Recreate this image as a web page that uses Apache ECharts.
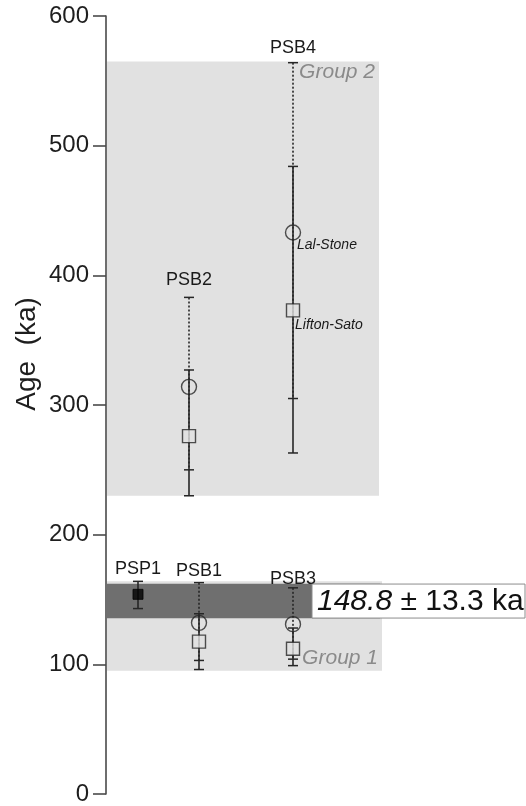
<!DOCTYPE html>
<html>
<head>
<meta charset="utf-8">
<script src="https://cdn.jsdelivr.net/npm/echarts@6/dist/echarts.min.js"></script>
<style>
  html, body { margin: 0; padding: 0; background: #ffffff; }
  #chart { width: 526px; height: 806px; }
</style>
</head>
<body>
<div id="chart"></div>
<script>
// Exposure ages (ka) per sample, two production-rate scalings
const samples = ['PSP1', 'PSB1', 'PSB2', 'PSB3', 'PSB4'];
const lalStoneAge  = [null, 132, 314, 131, 433];
const lalStoneLow  = [null, 103, 250, 104, 305];
const lalStoneHigh = [null, 163, 383, 159, 564];
const liftonSatoAge  = [null, 117.5, 276, 112, 373];
const liftonSatoLow  = [null, 96, 230, 99, 263];
const liftonSatoHigh = [null, 139, 327, 128, 484];
// single dated sample (filled marker)
const singleAge  = [154, null, null, null, null];
const singleLow  = [143, null, null, null, null];
const singleHigh = [164, null, null, null, null];

// age groups (shaded ranges)
const groupNames = ['Group 1', 'Group 2'];
const groupLow  = [95, 230];
const groupHigh = [164, 565];

// weighted mean of group 1
const meanAge = 148.8;
const meanErr = 13.3;

// axis
const ageMin = 0, ageMax = 600, ageStep = 100;

// ---- layout (horizontal slots along a hidden pixel-like axis) ----
const slotX = [32, 93, 83, 187, 187];
const labelLift = [12, 12, 17, 9, 15];
const groupRight = [276, 273];
const bandRight = 274;
const X_MAX = 420;

const INK = '#262626';
const FONT = '"Liberation Sans", Arial, sans-serif';

const chart = echarts.init(document.getElementById('chart'), null, { renderer: 'canvas' });

function rangeData(low, high) {
  const out = [];
  samples.forEach((s, i) => {
    if (low[i] != null) out.push([slotX[i], low[i], high[i]]);
  });
  return out;
}
function pointData(age) {
  const out = [];
  samples.forEach((s, i) => {
    if (age[i] != null) out.push([slotX[i], age[i]]);
  });
  return out;
}

function errorBarSeries(name, low, high, dashed, z) {
  return {
    type: 'custom', name, z, clip: false, silent: true,
    data: rangeData(low, high),
    renderItem: (params, api) => {
      const top = api.coord([api.value(0), api.value(2)]);
      const bot = api.coord([api.value(0), api.value(1)]);
      const style = { stroke: INK, lineWidth: 1.6, lineDash: dashed ? [2, 2] : null };
      const cap = 5;
      return {
        type: 'group',
        children: [
          { type: 'line', shape: { x1: top[0], y1: top[1], x2: bot[0], y2: bot[1] }, style },
          { type: 'line', shape: { x1: top[0] - cap, y1: top[1], x2: top[0] + cap, y2: top[1] }, style: { stroke: INK, lineWidth: 1.5 } },
          { type: 'line', shape: { x1: bot[0] - cap, y1: bot[1], x2: bot[0] + cap, y2: bot[1] }, style: { stroke: INK, lineWidth: 1.5 } }
        ]
      };
    }
  };
}

const groupData = groupNames.map((n, i) => [groupRight[i], groupLow[i], groupHigh[i], n]);

const option = {
  animation: false,
  backgroundColor: '#ffffff',
  grid: { left: 106, right: 0, top: 16, bottom: 6.5, containLabel: false },
  xAxis: { type: 'value', min: 0, max: X_MAX, show: false },
  yAxis: {
    type: 'value', min: ageMin, max: ageMax, interval: ageStep,
    axisLine: { show: true, lineStyle: { color: '#4a4a4a', width: 1.6 } },
    axisTick: { show: true, length: 13, lineStyle: { color: '#4a4a4a', width: 1.6 } },
    axisLabel: { color: '#1e1e1e', fontSize: 24, fontFamily: FONT, margin: 17 },
    splitLine: { show: false }
  },
  graphic: [{
    type: 'text', x: 27, y: 354, rotation: Math.PI / 2,
    style: { text: 'Age  (ka)', fill: '#1e1e1e', font: '28px ' + FONT, align: 'center', verticalAlign: 'middle' }
  }],
  series: [
    // shaded age groups
    {
      type: 'custom', name: 'groups', z: 1, silent: true, clip: false,
      data: groupData,
      renderItem: (params, api) => {
        const tl = api.coord([0, api.value(2)]);
        const br = api.coord([api.value(0), api.value(1)]);
        const isTop = params.dataIndex === 1;
        return {
          type: 'group',
          children: [
            { type: 'rect', shape: { x: tl[0] + 1, y: tl[1], width: br[0] - tl[0] - 1, height: br[1] - tl[1] }, style: { fill: '#e1e1e1' } },
            {
              type: 'text', z2: 5,
              style: {
                text: groupData[params.dataIndex][3], x: br[0] - 4,
                y: isTop ? tl[1] + 11 : br[1] - 13,
                align: 'right', verticalAlign: 'middle',
                fill: '#8a8a8a', font: 'italic 21px ' + FONT
              }
            }
          ]
        };
      }
    },
    // weighted mean band with its annotation
    {
      type: 'custom', name: 'mean', z: 2, silent: true, clip: false,
      data: [[bandRight, meanAge - meanErr, meanAge + meanErr, meanAge]],
      renderItem: (params, api) => {
        const tl = api.coord([0, api.value(2)]);
        const br = api.coord([api.value(0), api.value(1)]);
        const mid = api.coord([0, api.value(3)]);
        const bx = api.coord([206, 0])[0];
        const bh = 34;
        return {
          type: 'group',
          children: [
            { type: 'rect', shape: { x: tl[0] + 1, y: tl[1], width: br[0] - tl[0] - 1, height: br[1] - tl[1] }, style: { fill: '#6f6f6f' } },
            { type: 'rect', z2: 10, shape: { x: bx, y: mid[1] - bh / 2, width: 525 - bx, height: bh }, style: { fill: '#ffffff', stroke: '#8c8c8c', lineWidth: 1 } },
            {
              type: 'text', z2: 11,
              style: {
                x: bx + 5, y: mid[1] + 1,
                text: '{i|' + meanAge.toFixed(1) + '} ± ' + meanErr.toFixed(1) + ' ka',
                verticalAlign: 'middle', align: 'left',
                fill: '#111', font: '30px ' + FONT,
                rich: { i: { fontStyle: 'italic', fontSize: 30, fontFamily: FONT, fill: '#111' } }
              }
            }
          ]
        };
      }
    },
    errorBarSeries('Lal-Stone range', lalStoneLow, lalStoneHigh, true, 3),
    errorBarSeries('Lifton-Sato range', liftonSatoLow, liftonSatoHigh, false, 4),
    errorBarSeries('single range', singleLow, singleHigh, false, 4),
    {
      type: 'scatter', name: 'Lal-Stone', z: 5, silent: true,
      symbol: 'circle', symbolSize: 15,
      itemStyle: { color: 'rgba(0,0,0,0)', borderColor: INK, borderWidth: 1.4 },
      data: pointData(lalStoneAge)
    },
    {
      type: 'scatter', name: 'Lifton-Sato', z: 5, silent: true,
      symbol: 'rect', symbolSize: 13,
      itemStyle: { color: '#e1e1e1', borderColor: INK, borderWidth: 1.4 },
      data: pointData(liftonSatoAge)
    },
    {
      type: 'scatter', name: 'single', z: 5, silent: true,
      symbol: 'rect', symbolSize: 10,
      itemStyle: { color: '#000', borderColor: '#000', borderWidth: 1 },
      data: pointData(singleAge)
    },
    // sample names above each column
    {
      type: 'custom', name: 'sample labels', z: 6, silent: true, clip: false,
      data: samples.map((s, i) => {
        const tops = [lalStoneHigh[i], liftonSatoHigh[i], singleHigh[i]].filter(v => v != null);
        return [slotX[i], Math.max.apply(null, tops), i];
      }),
      renderItem: (params, api) => {
        const p = api.coord([api.value(0), api.value(1)]);
        const i = api.value(2);
        return {
          type: 'text',
          style: { text: samples[i], x: p[0], y: p[1] - labelLift[i], align: 'center', verticalAlign: 'middle', fill: '#1a1a1a', font: '18px ' + FONT }
        };
      }
    },
    // scaling-scheme names beside PSB4 markers
    {
      type: 'custom', name: 'scheme labels', z: 6, silent: true, clip: false,
      data: [[slotX[4], lalStoneAge[4], 0], [slotX[4], liftonSatoAge[4], 1]],
      renderItem: (params, api) => {
        const p = api.coord([api.value(0), api.value(1)]);
        const k = api.value(2);
        return {
          type: 'text',
          style: {
            text: k === 0 ? 'Lal-Stone' : 'Lifton-Sato',
            x: p[0] + (k === 0 ? 4 : 2), y: p[1] + (k === 0 ? 13 : 15),
            align: 'left', verticalAlign: 'middle', fill: '#1a1a1a', font: 'italic 14px ' + FONT
          }
        };
      }
    }
  ]
};

chart.setOption(option);
</script>
</body>
</html>
